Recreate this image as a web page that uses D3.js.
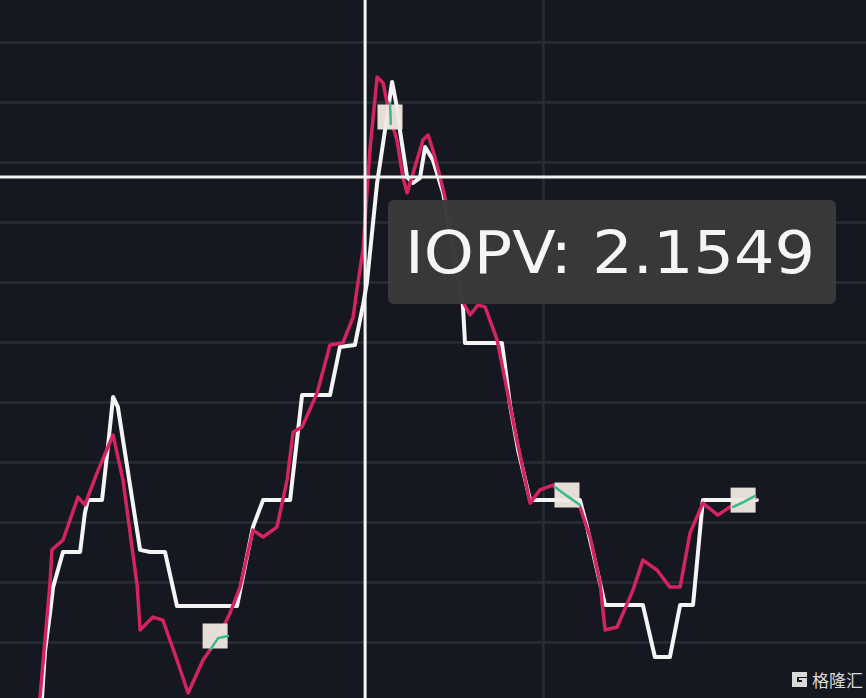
<!DOCTYPE html>
<html><head><meta charset="utf-8">
<script src="https://cdn.jsdelivr.net/npm/d3@7"></script>
<style>html,body{margin:0;padding:0;background:#151821;overflow:hidden}</style>
</head><body>
<svg id="chart" width="866" height="698"></svg>
<script>
// ---- data (time in minutes, value in price units) ----
const iopvTime  = [14.0,15.0,16.7,17.7,21.0,26.7,28.3,29.3,34.0,36.0,37.7,39.3,46.7,50.0,55.0,59.0,79.0,84.3,87.7,96.7,100.7,110.0,113.3,118.3,121.0,122.3,125.7,129.0,130.7,132.3,133.3,135.7,137.7,140.0,141.7,144.3,147.7,151.7,154.3,155.0,167.3,168.3,170.0,172.7,176.7,184.3,193.3,195.7,200.0,201.7,214.3,218.3,223.3,226.7,231.0,234.3,252.3];
const iopvValue = [2.13813,2.1397,2.14097,2.14183,2.1430,2.1430,2.1443,2.14473,2.14473,2.14653,2.14817,2.14783,2.14307,2.1430,2.1430,2.1412,2.1412,2.14383,2.14473,2.14473,2.14823,2.14823,2.14983,2.1499,2.15123,2.15197,2.1553,2.1575,2.15867,2.15783,2.15707,2.1555,2.1553,2.15547,2.1565,2.15607,2.15497,2.15273,2.15123,2.14997,2.14997,2.14923,2.1479,2.1464,2.14473,2.14473,2.14473,2.14383,2.14197,2.14123,2.14123,2.1395,2.1395,2.14123,2.14123,2.14473,2.14473];

const priceTime  = [13.3,16.7,17.3,21.0,26.0,28.3,32.3,37.7,41.0,45.7,46.7,51.0,54.3,59.0,62.7,67.7,72.3,76.7,80.0,84.3,87.7,92.3,95.7,97.7,100.7,105.7,110.0,114.3,117.7,119.3,121.0,123.3,125.7,127.7,130.0,132.3,134.3,135.7,137.3,141.0,142.7,144.3,146.7,148.3,151.7,154.0,156.7,159.3,161.7,165.7,169.0,172.3,176.7,180.0,184.3,189.0,193.3,196.7,200.0,201.7,205.7,211.0,214.3,219.0,223.3,226.7,230.0,234.3,239.3,243.3,251.7];
const priceValue = [2.13813,2.1420,2.14307,2.1434,2.14483,2.14457,2.14563,2.1469,2.1454,2.1419,2.1404,2.14083,2.14073,2.1394,2.1383,2.1394,2.14007,2.14097,2.14183,2.14373,2.1435,2.14383,2.1454,2.147,2.14717,2.1483,2.1499,2.14997,2.15083,2.15197,2.15307,2.1564,2.15883,2.15863,2.1575,2.15673,2.1555,2.15497,2.1555,2.15673,2.1569,2.1564,2.1555,2.15483,2.15273,2.1514,2.1509,2.15123,2.15117,2.15007,2.1484,2.14673,2.14463,2.14507,2.14523,2.14483,2.1445,2.1435,2.14197,2.1404,2.1405,2.14173,2.14273,2.1424,2.14183,2.14183,2.14363,2.14463,2.14423,2.1445,2.1448];

// marker boxes (centre time / value) and short green signal segments inside them
const markerTime  = [71.7,130.0,189.0,247.7];
const markerValue = [2.1402,2.1575,2.1449,2.14473];
const signalSegments = [
  [[70.3,2.13977],[72.7,2.14013],[76.0,2.1402]],
  [[130.0,2.15797],[130.3,2.15727]],
  [[185.0,2.14517],[189.0,2.14487],[193.3,2.14457]],
  [[244.3,2.1445],[248.0,2.14467],[251.7,2.14487]]
];

const gridValues = [2.140,2.142,2.144,2.146,2.148,2.150,2.152,2.154,2.156,2.158,2.160];
const gridTimes  = [181.0];
const crossTime = 121.7, crossValue = 2.1555;
const tooltipLabel = "IOPV: 2.1549";
const watermark = "格隆汇";

// ---- drawing ----
const W = 866, H = 698;
const svg = d3.select("#chart");
const x = d3.scaleLinear().domain([0, W/3]).range([0, W]);
const y = d3.scaleLinear().domain([2.140, 2.160]).range([642, 42]);

svg.append("rect").attr("width", W).attr("height", H).attr("fill", "#151821");

// horizontal grid via axis
const yAxis = d3.axisLeft(y).tickValues(gridValues).tickSize(-W).tickFormat("");
const gy = svg.append("g").call(yAxis);
gy.select(".domain").remove();
gy.selectAll(".tick line").attr("stroke", "#282c36").attr("stroke-width", 2.5);

// vertical grid
const xAxis = d3.axisBottom(x).tickValues(gridTimes).tickSize(-H).tickFormat("");
const gx = svg.append("g").attr("transform", `translate(0,${H})`).call(xAxis);
gx.select(".domain").remove();
gx.selectAll(".tick line").attr("stroke", "#282c36").attr("stroke-width", 2.5);

const line = d3.line().x(d => x(d[0])).y(d => y(d[1])).curve(d3.curveLinear);

const iopv = iopvTime.map((t, i) => [t, iopvValue[i]]);
const price = priceTime.map((t, i) => [t, priceValue[i]]);

svg.append("path").datum(iopv).attr("d", line)
  .attr("fill", "none").attr("stroke", "#f4f4f4").attr("stroke-width", 4)
  .attr("stroke-linejoin", "round").attr("stroke-linecap", "round");

svg.append("path").datum(price).attr("d", line)
  .attr("fill", "none").attr("stroke", "#d4245f").attr("stroke-width", 3.5)
  .attr("stroke-linejoin", "round").attr("stroke-linecap", "round");

// marker boxes
const box = 25;
svg.selectAll(".mk").data(markerTime).enter().append("rect")
  .attr("x", d => x(d) - box/2).attr("y", (d, i) => y(markerValue[i]) - box/2)
  .attr("width", box).attr("height", box)
  .attr("fill", "#efe9e0").attr("opacity", 0.95);

svg.selectAll(".sig").data(signalSegments).enter().append("path")
  .attr("d", line).attr("fill", "none").attr("stroke", "#3cb98a")
  .attr("stroke-width", 2.5).attr("stroke-linecap", "round");

// crosshair
svg.append("line").attr("x1", x(crossTime)).attr("x2", x(crossTime)).attr("y1", 0).attr("y2", H)
  .attr("stroke", "#f2f2f2").attr("stroke-width", 3);
svg.append("line").attr("x1", 0).attr("x2", W).attr("y1", y(crossValue)).attr("y2", y(crossValue))
  .attr("stroke", "#f2f2f2").attr("stroke-width", 3);

// tooltip
const tip = svg.append("g").attr("transform", "translate(388,200)");
tip.append("rect").attr("width", 448).attr("height", 104).attr("rx", 6)
  .attr("fill", "#3a3a3c").attr("opacity", 0.97);
tip.append("text").attr("x", 17).attr("y", 73)
  .attr("font-family", "'DejaVu Sans', sans-serif").attr("font-size", 58)
  .attr("fill", "#f5f5f5").attr("textLength", 410).attr("lengthAdjust", "spacingAndGlyphs")
  .text(tooltipLabel);

// watermark
const wm = svg.append("g").attr("transform", "translate(792,672)");
wm.append("path")
  .attr("d", "M0,0 H15 V5 H5 V10 H10 V8 H7 V6 H15 V15 H0 Z")
  .attr("fill", "#d9d9d9");
wm.append("text").attr("x", 20).attr("y", 15)
  .attr("font-family", "'Noto Sans CJK SC', sans-serif").attr("font-size", 17)
  .attr("fill", "#d9d9d9").text(watermark);
</script>
</body></html>
